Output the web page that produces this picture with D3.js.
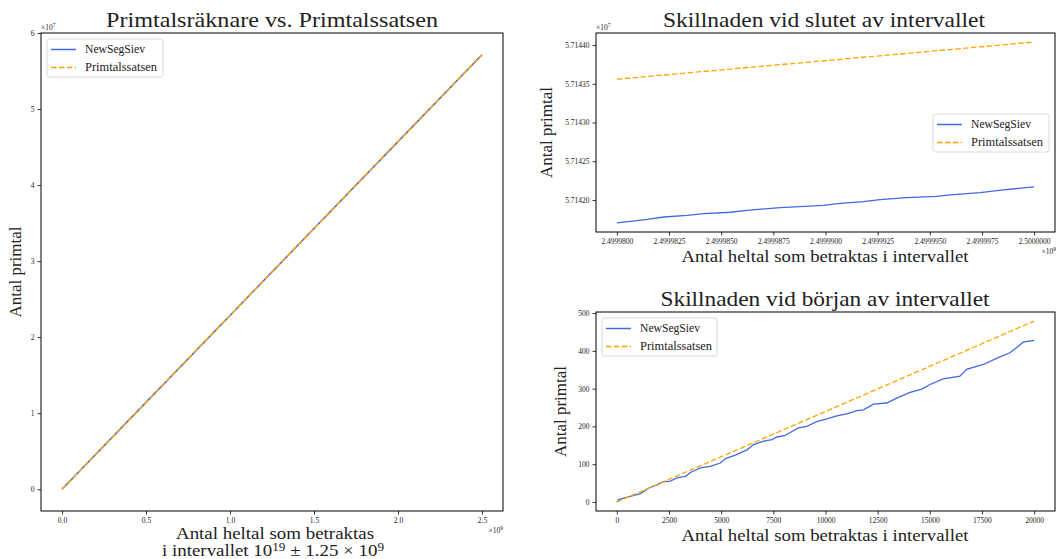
<!DOCTYPE html>
<html><head><meta charset="utf-8">
<script src="https://cdn.jsdelivr.net/npm/d3@7"></script>
<style>
body{margin:0;background:#fff;}
text{font-family:"Liberation Serif","DejaVu Serif",serif;fill:#222;}
</style></head>
<body><svg id="c" width="1056" height="559"></svg>
<script>
// ---------- DATA ----------
const seriesNames = ["NewSegSiev", "Primtalssatsen"];

// Panel 1: full interval
const fullX = [0, 500000000, 1000000000, 1500000000, 2000000000, 2500000000];
const fullNewSeg = [0, 11428600, 22857200, 34285800, 45714500, 57142168];
const fullPNT = [0, 11428800, 22857600, 34286400, 45715200, 57144039];
const fullXTicks = [0, 0.5e9, 1.0e9, 1.5e9, 2.0e9, 2.5e9];
const fullXTickLabels = ["0.0", "0.5", "1.0", "1.5", "2.0", "2.5"];
const fullYTicks = [0, 1e7, 2e7, 3e7, 4e7, 5e7, 6e7];
const fullYTickLabels = ["0", "1", "2", "3", "4", "5", "6"];

// Panel 2: end of interval
const endX = [2499980000, 2499980654, 2499981452, 2499982249, 2499983366, 2499984163, 2499985439, 2499986236,
  2499987831, 2499989905, 2499990702, 2499991819, 2499992616, 2499993892, 2499995328, 2499995966,
  2499997401, 2499998518, 2500000000];
const endNewSeg = [57141703, 57141724, 57141750, 57141780, 57141802, 57141823, 57141841, 57141866,
  57141901, 57141931, 57141957, 57141978, 57142004, 57142030, 57142047, 57142065,
  57142095, 57142129, 57142168];
const endPNTX = [2499980000, 2500000000];
const endPNT = [57143559, 57144039];
const endXTicks = [2499980000, 2499982500, 2499985000, 2499987500, 2499990000, 2499992500, 2499995000, 2499997500, 2500000000];
const endXTickLabels = ["2.4999800", "2.4999825", "2.4999850", "2.4999875", "2.4999900", "2.4999925", "2.4999950", "2.4999975", "2.5000000"];
const endYTicks = [57142000, 57142500, 57143000, 57143500, 57144000];
const endYTickLabels = ["5.71420", "5.71425", "5.71430", "5.71435", "5.71440"];

// Panel 3: start of interval
const startX = [0, 96, 494, 1132, 1372, 1531, 1930, 2169, 2568, 2887, 3286, 3525, 4003, 4482, 4960, 5200,
  5678, 6236, 6555, 7034, 7432, 7672, 8071, 8310, 8709, 9107, 9586, 10064, 10543, 11021, 11500,
  11819, 12297, 12935, 13414, 14052, 14610, 15009, 15647, 16444, 16763, 17561, 18199, 18837,
  19156, 19475, 20000];
const startNewSeg = [0, 6, 13, 22, 31, 37, 45, 53, 55, 64, 68, 78, 90, 94, 103, 115,
  124, 138, 152, 161, 165, 172, 176, 184, 196, 200, 213, 220, 228, 233, 242,
  244, 259, 262, 275, 290, 299, 311, 326, 333, 351, 364, 380, 395,
  408, 423, 428];
const startPNTX = [0, 20000];
const startPNT = [0, 479];
const startXTicks = [0, 2500, 5000, 7500, 10000, 12500, 15000, 17500, 20000];
const startXTickLabels = ["0", "2500", "5000", "7500", "10000", "12500", "15000", "17500", "20000"];
const startYTicks = [0, 100, 200, 300, 400, 500];
const startYTickLabels = ["0", "100", "200", "300", "400", "500"];

// ---------- DRAW ----------
const svg = d3.select("#c");
const BLUE = "#4169e1", ORANGE = "#ffa500";

function pad(ext) { const d = (ext[1] - ext[0]) * 0.05; return [ext[0] - d, ext[1] + d]; }

function panel(o) {
  const x = d3.scaleLinear().domain(pad(o.xExt)).range([o.x0, o.x1]);
  const y = d3.scaleLinear().domain(pad(o.yExt)).range([o.y1, o.y0]);
  const g = svg.append("g");
  const line = d3.line().x(d => x(d[0])).y(d => y(d[1]));
  g.append("path").datum(d3.zip(o.bx, o.by)).attr("d", line)
    .attr("fill", "none").attr("stroke", BLUE).attr("stroke-width", o.lw);
  g.append("path").datum(d3.zip(o.ox, o.oy)).attr("d", line)
    .attr("fill", "none").attr("stroke", ORANGE).attr("stroke-width", o.lw)
    .attr("stroke-dasharray", "5.5,2.4");
  const xa = d3.axisBottom(x).tickValues(o.xTicks).tickFormat((d, i) => o.xLabels[i]).tickSize(3.5).tickPadding(3);
  const ya = d3.axisLeft(y).tickValues(o.yTicks).tickFormat((d, i) => o.yLabels[i]).tickSize(3.5).tickPadding(3);
  const gx = g.append("g").attr("transform", `translate(0,${o.y1})`).call(xa);
  const gy = g.append("g").attr("transform", `translate(${o.x0},0)`).call(ya);
  [gx, gy].forEach(a => {
    a.select(".domain").remove();
    a.selectAll("line").attr("stroke", "#000").attr("stroke-width", 0.8);
    a.selectAll("text").style("font-size", "7.5px").style("font-family", '"Liberation Serif",serif').attr("fill", "#222");
  });
  g.append("rect").attr("x", o.x0).attr("y", o.y0).attr("width", o.x1 - o.x0).attr("height", o.y1 - o.y0)
    .attr("fill", "none").attr("stroke", "#000").attr("stroke-width", 1);
  g.append("text").attr("x", o.tcx).attr("y", o.y0 - 6).attr("text-anchor", "middle")
    .style("font-size", "21px").attr("textLength", o.tw).attr("lengthAdjust", "spacingAndGlyphs").text(o.title);
  g.append("text").attr("transform", `translate(${o.ylx},${(o.y0 + o.y1) / 2}) rotate(-90)`)
    .attr("text-anchor", "middle").style("font-size", "17px").text("Antal primtal");
  if (o.yOff) {
    const t = g.append("text").attr("x", o.x0).attr("y", o.y0 - 3).style("font-size", "7.5px");
    t.append("tspan").text("×10");
    t.append("tspan").attr("dy", -3).style("font-size", "5.5px").text(o.yOff);
  }
  if (o.xOff) {
    const t = g.append("text").attr("x", o.xOffX).attr("y", o.y1 + 22).attr("text-anchor", "end").style("font-size", "7.5px");
    t.append("tspan").text("×10");
    t.append("tspan").attr("dy", -3).style("font-size", "5.5px").text(o.xOff);
  }
  const L = o.leg;
  const lg = g.append("g");
  lg.append("rect").attr("x", L.x).attr("y", L.y).attr("width", L.w).attr("height", 38).attr("rx", 2.5)
    .attr("fill", "#fff").attr("fill-opacity", 0.8).attr("stroke", "#d0d0d0").attr("stroke-width", 0.8);
  seriesNames.forEach((nm, i) => {
    const yy = L.y + 10.5 + i * 18;
    lg.append("line").attr("x1", L.x + 4).attr("x2", L.x + 29).attr("y1", yy).attr("y2", yy)
      .attr("stroke", i === 0 ? BLUE : ORANGE).attr("stroke-width", 1.5)
      .attr("stroke-dasharray", i === 0 ? null : "5.5,2.4");
    lg.append("text").attr("x", L.x + 38).attr("y", yy + 3.8).style("font-size", "12px")
      .attr("textLength", i === 0 ? 60 : 72).attr("lengthAdjust", "spacingAndGlyphs").text(nm);
  });
  return g;
}

// Panel 1
const p1 = panel({
  x0: 41, x1: 503, y0: 33, y1: 511,
  xExt: [0, 2.5e9], yExt: [0, 57142857 * 0.99995],
  bx: fullX, by: fullNewSeg, ox: fullX, oy: fullPNT, lw: 1.5,
  xTicks: fullXTicks, xLabels: fullXTickLabels, yTicks: fullYTicks, yLabels: fullYTickLabels,
  title: "Primtalsräknare vs. Primtalssatsen", tcx: 272, tw: 332, ylx: 21,
  yOff: "7", xOff: "9", xOffX: 503,
  leg: { x: 47, y: 39, w: 116 }
});
p1.append("text").attr("x", 275).attr("y", 538.5).attr("text-anchor", "middle").style("font-size", "16.5px")
  .attr("textLength", 198).attr("lengthAdjust", "spacingAndGlyphs").text("Antal heltal som betraktas");
const l2 = p1.append("text").attr("x", 273).attr("y", 556).attr("text-anchor", "middle").style("font-size", "16.5px")
  .attr("textLength", 222).attr("lengthAdjust", "spacingAndGlyphs");
l2.append("tspan").text("i intervallet 10");
l2.append("tspan").attr("dy", -5).style("font-size", "11.5px").text("19");
l2.append("tspan").attr("dy", 5).text(" ± 1.25 × 10");
l2.append("tspan").attr("dy", -5).style("font-size", "11.5px").text("9");

// Panel 2
const p2 = panel({
  x0: 596, x1: 1055, y0: 33, y1: 232,
  xExt: [2499980000, 2500000000], yExt: [d3.min(endNewSeg), d3.max(endPNT)],
  bx: endX, by: endNewSeg, ox: endPNTX, oy: endPNT, lw: 1.3,
  xTicks: endXTicks, xLabels: endXTickLabels, yTicks: endYTicks, yLabels: endYTickLabels,
  title: "Skillnaden vid slutet av intervallet", tcx: 824, tw: 322, ylx: 552,
  yOff: "7", xOff: "9", xOffX: 1056,
  leg: { x: 933, y: 114, w: 116 }
});
p2.append("text").attr("x", 825).attr("y", 262).attr("text-anchor", "middle").style("font-size", "17px")
  .attr("textLength", 287).attr("lengthAdjust", "spacingAndGlyphs").text("Antal heltal som betraktas i intervallet");

// Panel 3
const p3 = panel({
  x0: 596, x1: 1055, y0: 312, y1: 511,
  xExt: [0, 20000], yExt: [0, d3.max(startPNT)],
  bx: startX, by: startNewSeg, ox: startPNTX, oy: startPNT, lw: 1.3,
  xTicks: startXTicks, xLabels: startXTickLabels, yTicks: startYTicks, yLabels: startYTickLabels,
  title: "Skillnaden vid början av intervallet", tcx: 825, tw: 329, ylx: 566,
  yOff: null, xOff: null,
  leg: { x: 602, y: 318, w: 115 }
});
p3.append("text").attr("x", 825).attr("y", 541).attr("text-anchor", "middle").style("font-size", "17px")
  .attr("textLength", 287).attr("lengthAdjust", "spacingAndGlyphs").text("Antal heltal som betraktas i intervallet");
</script></body></html>
